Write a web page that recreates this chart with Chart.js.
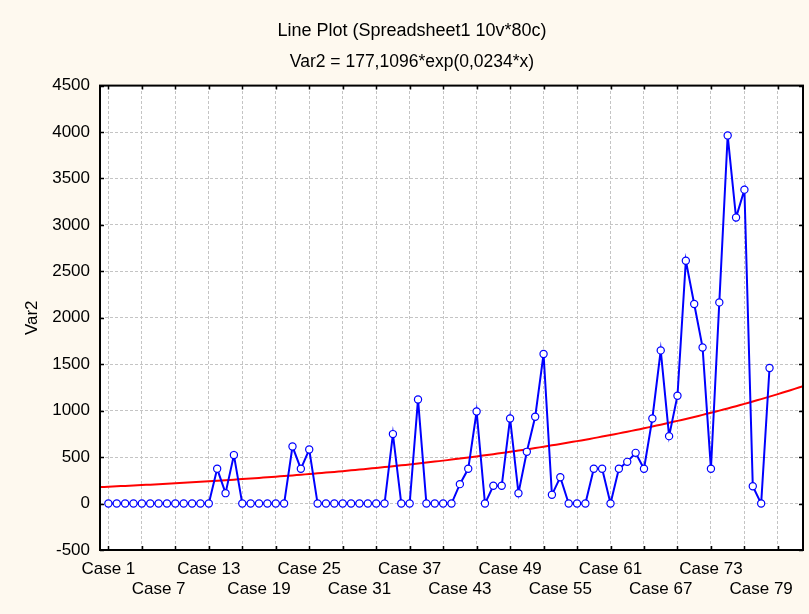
<!DOCTYPE html>
<html><head><meta charset="utf-8">
<script src="https://cdn.jsdelivr.net/npm/chart.js@4/dist/chart.umd.min.js"></script>
<style>html,body{margin:0;padding:0;background:#FEF9EF;}</style>
</head><body>
<canvas id="c" width="809" height="614"></canvas>
<script>
// ---- data ----
const caseNumbers = [
  1,2,3,4,5,6,7,8,9,10,11,12,13,14,15,16,17,18,19,20,
  21,22,23,24,25,26,27,28,29,30,31,32,33,34,35,36,37,38,39,40,
  41,42,43,44,45,46,47,48,49,50,51,52,53,54,55,56,57,58,59,60,
  61,62,63,64,65,66,67,68,69,70,71,72,73,74,75,76,77,78,79,80
];
const var2 = [
  0,0,0,0,0,0,0,0,0,0,0,0,0,374,112,522,0,0,0,0,
  0,0,614,374,582,0,0,0,0,0,0,0,0,0,748,0,0,1121,0,0,
  0,0,209,374,991,0,191,191,916,112,557,934,1610,94,284,0,0,0,374,374,
  0,374,449,546,374,916,1649,726,1161,2615,2148,1681,374,2166,3962,3079,3380,187,0,1459
];
const xLabelCases = [1,7,13,19,25,31,37,43,49,55,61,67,73,79];
const xGridCases = [1,5,9,13,17,21,25,29,33,37,41,45,49,53,57,61,65,69,73,77,81];
const yTickValues = [-500,0,500,1000,1500,2000,2500,3000,3500,4000,4500];
const fitA = 177.1096, fitB = 0.0234;   // Var2 = 177,1096*exp(0,0234*x)
const xMin = 0, xMax = 84;
const titleText = 'Line Plot (Spreadsheet1 10v*80c)';
const subtitleText = 'Var2 = 177,1096*exp(0,0234*x)';

const fitPoints = [];
for (let x = xMin; x <= xMax; x += 0.5) fitPoints.push({x: x, y: fitA * Math.exp(fitB * x)});

Chart.defaults.font.family = '"Liberation Sans", Arial, sans-serif';
Chart.defaults.color = '#000';

const framePlugin = {
  id: 'frame',
  beforeDraw(chart) {
    const {ctx, chartArea: a} = chart;
    ctx.save();
    ctx.fillStyle = '#FEF9EF';
    ctx.fillRect(0, 0, chart.width, chart.height);
    ctx.fillStyle = '#FFFFFF';
    ctx.fillRect(a.left, a.top, a.right - a.left, a.bottom - a.top);
    ctx.restore();
  },
  afterDraw(chart) {
    const {ctx, chartArea: a, scales} = chart;
    ctx.save();
    ctx.strokeStyle = '#000';
    ctx.lineWidth = 1.5;
    ctx.beginPath();
    xGridCases.forEach(v => {
      const px = Math.round(scales.x.getPixelForValue(v)) + 0.5;
      ctx.moveTo(px, a.bottom); ctx.lineTo(px, a.bottom - 4);
      ctx.moveTo(px, a.top); ctx.lineTo(px, a.top + 4);
    });
    yTickValues.forEach(v => {
      const py = Math.round(scales.y.getPixelForValue(v)) + 0.5;
      ctx.moveTo(a.left, py); ctx.lineTo(a.left + 4, py);
      ctx.moveTo(a.right, py); ctx.lineTo(a.right - 4, py);
    });
    ctx.stroke();
    ctx.lineWidth = 2;
    ctx.strokeRect(a.left, a.top, a.right - a.left, a.bottom - a.top);
    ctx.restore();
  }
};

new Chart(document.getElementById('c'), {
  type: 'line',
  data: {
    datasets: [
      {
        label: 'Var2',
        data: caseNumbers.map((c, i) => ({x: c, y: var2[i]})),
        borderColor: '#0000FF',
        borderWidth: 2,
        pointRadius: 3.6,
        pointBorderWidth: 1.2,
        pointBackgroundColor: '#FFFFFF',
        pointBorderColor: '#0000FF',
        tension: 0
      },
      {
        label: 'fit',
        data: fitPoints,
        borderColor: '#FF0000',
        borderWidth: 2,
        pointRadius: 0,
        tension: 0
      }
    ]
  },
  options: {
    responsive: false,
    animation: false,
    devicePixelRatio: 1,
    layout: {padding: {left: 21, right: 6, top: 0, bottom: 0}},
    plugins: {
      legend: {display: false},
      tooltip: {enabled: false},
      title: {display: true, text: titleText, font: {size: 18, weight: 'normal'}, color: '#000', padding: {top: 20, bottom: 4}},
      subtitle: {display: true, text: subtitleText, font: {size: 17.5, weight: 'normal'}, color: '#000', padding: {top: 6, bottom: 13}}
    },
    scales: {
      x: {
        type: 'linear', position: 'bottom', min: xMin, max: xMax,
        afterBuildTicks: s => { s.ticks = xLabelCases.map(v => ({value: v})); },
        afterFit: s => { s.height = 64; },
        grid: {display: false, drawTicks: false},
        border: {display: false},
        ticks: {
          autoSkip: false, maxRotation: 0, minRotation: 0, padding: 9,
          font: {size: 17}, color: '#000',
          callback: (v, i) => (i % 2 === 0 ? ['Case ' + v, ''] : ['', 'Case ' + v])
        }
      },
      xg: {
        type: 'linear', position: 'top', min: xMin, max: xMax,
        afterBuildTicks: s => { s.ticks = xGridCases.map(v => ({value: v})); },
        afterFit: s => { s.height = 0; },
        ticks: {display: false},
        grid: {display: true, drawTicks: false, color: '#C4C4C4', lineWidth: 1},
        border: {display: false, dash: [3, 2]}
      },
      y: {
        type: 'linear', position: 'left', min: -500, max: 4500,
        afterBuildTicks: s => { s.ticks = yTickValues.map(v => ({value: v})); },
        afterFit: s => { s.width = 79; },
        ticks: {padding: 10, font: {size: 17}, color: '#000', callback: v => String(v)},
        grid: {display: true, drawTicks: false, color: '#C4C4C4', lineWidth: 1},
        border: {display: false, dash: [3, 2]},
        title: {display: true, text: 'Var2', font: {size: 17}, color: '#000', padding: {top: 1, bottom: 0}}
      }
    }
  },
  plugins: [framePlugin]
});
</script>
</body></html>
